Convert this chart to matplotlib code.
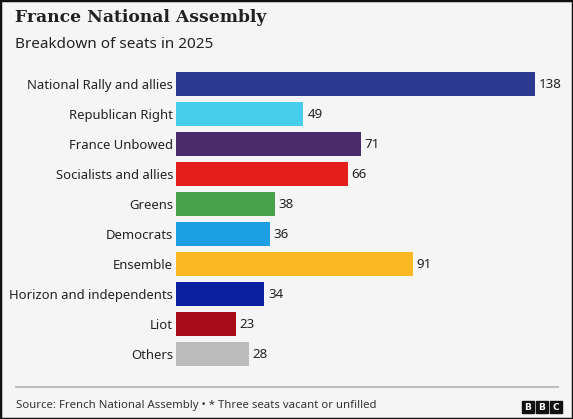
import matplotlib
matplotlib.use("Agg")
import matplotlib.pyplot as plt
from matplotlib.patches import Rectangle

categories = ["National Rally and allies", "Republican Right", "France Unbowed",
              "Socialists and allies", "Greens", "Democrats", "Ensemble",
              "Horizon and independents", "Liot", "Others"]
seats = [138, 49, 71, 66, 38, 36, 91, 34, 23, 28]
colors = ["#2b3a8f", "#45cdea", "#4b2a6c", "#e31e1b", "#48a24b", "#1c9fe3",
          "#fcb823", "#0b20a1", "#a80b18", "#bcbcbc"]

title = "France National Assembly"
subtitle = "Breakdown of seats in 2025"
footer = "Source: French National Assembly \u2022 * Three seats vacant or unfilled"

W, H = 573, 419
BG = "#f5f5f5"
fig = plt.figure(figsize=(W / 100, H / 100), dpi=100)
fig.patch.set_facecolor(BG)

def px(x0, y0, x1, y1):
    return [x0 / W, 1 - y1 / H, (x1 - x0) / W, (y1 - y0) / H]

ax = fig.add_axes(px(176, 69, 560, 369))
ax.set_facecolor(BG)
ypos = list(range(len(categories)))
ax.barh(ypos, seats, height=0.8, color=colors, edgecolor="none")
ax.set_xlim(0, 384 / 2.6)
ax.set_ylim(len(categories) - 0.5, -0.5)
for s in ax.spines.values():
    s.set_visible(False)
ax.set_xticks([])
ax.set_yticks(ypos)
ax.set_yticklabels(categories, fontsize=9.4, family="Noto Sans", color="#222222")
ax.tick_params(axis="y", length=0, pad=2)
for y, v in zip(ypos, seats):
    ax.text(v + 1.5, y, str(v), va="center", ha="left", fontsize=9.6,
            family="Noto Sans", color="#222222")

fig.text(15 / W, 1 - 17 / H, title, fontsize=12.3, fontweight="bold",
         family="DejaVu Serif", color="#222222", va="center", ha="left")
fig.text(15 / W, 1 - 44 / H, subtitle, fontsize=11, family="Noto Sans",
         color="#222222", va="center", ha="left")

# footer line
fig.add_artist(plt.Line2D([16 / W, 558 / W], [1 - 387 / H, 1 - 387 / H],
                          color="#bdbdbd", lw=1.5))
fig.text(16 / W, 1 - 405 / H, footer, fontsize=8.2, family="Noto Sans",
         color="#333333", va="center", ha="left")

# BBC blocks
for i, ch in enumerate("BBC"):
    x0 = 522 + i * 14
    fig.add_artist(Rectangle((x0 / W, 1 - 413 / H), 12 / W, 12 / H,
                             transform=fig.transFigure, color="#111111"))
    fig.text((x0 + 6) / W, 1 - 407 / H, ch, fontsize=6.5, fontweight="bold",
             family="DejaVu Sans", color="white", ha="center", va="center")

# outer border
fig.add_artist(Rectangle((0, 0), 1, 1, transform=fig.transFigure, fill=False,
                         edgecolor="#111111", lw=2.5))

fig.savefig("out.png", dpi=100, facecolor=BG)
